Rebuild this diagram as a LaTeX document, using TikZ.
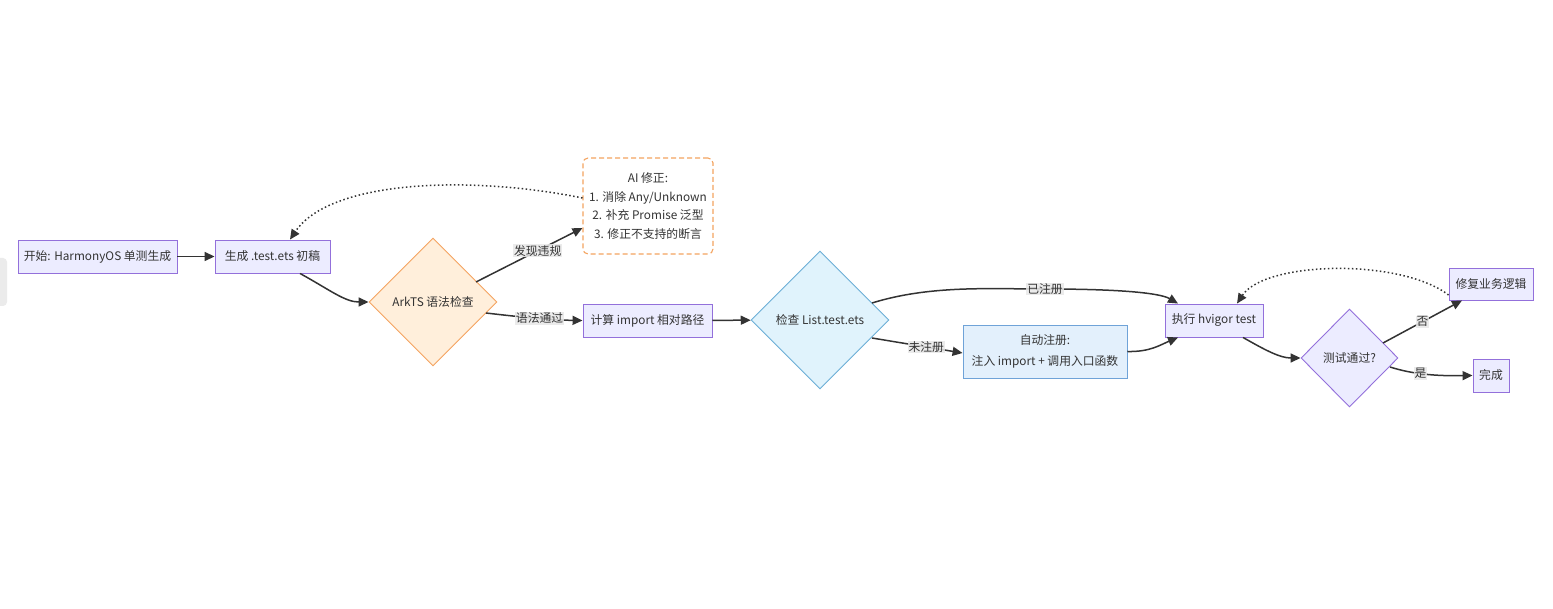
\documentclass[tikz,border=0pt]{standalone}
\usepackage{fontspec}
\setmainfont{Noto Sans CJK SC}
\usetikzlibrary{arrows.meta,shapes.geometric}
\definecolor{txt}{HTML}{333333}
\definecolor{pfill}{HTML}{ECECFF}
\definecolor{pdraw}{HTML}{9370DB}
\definecolor{ofill}{HTML}{FFEFDB}
\definecolor{odraw}{HTML}{F4A460}
\definecolor{bfill}{HTML}{E0F3FC}
\definecolor{bdraw}{HTML}{6BAED6}
\definecolor{b2fill}{HTML}{E3F0FC}
\definecolor{b2draw}{HTML}{6FA3D8}
\definecolor{lblbg}{HTML}{E8E8E8}
\definecolor{edgec}{HTML}{333333}
\tikzset{
  x=1pt, y=-1pt,
  every node/.style={font=\fontsize{11.8}{14}\selectfont, text=txt},
  pbox/.style={draw=pdraw, fill=pfill, line width=0.9pt, inner sep=0pt, minimum height=33pt, align=center},
  dbox/.style={shape=diamond, aspect=1, inner sep=0pt, line width=0.9pt},
  edge/.style={draw=edgec, line width=1.5pt, -{Triangle[length=10pt,width=9pt]}},
  dots/.style={draw=edgec, line width=1.5pt, dash pattern=on 1.5pt off 2.5pt, -{Triangle[length=10pt,width=9pt]}},
  lbl/.style={fill=lblbg, fill opacity=0.85, text opacity=1, inner sep=1pt},
}
\begin{document}
\begin{tikzpicture}
\useasboundingbox (0,0) rectangle (1553,609);
\fill[white] (0,0) rectangle (1553,609);
% side tab
\fill[black!8, rounded corners=4pt] (-6,258) rectangle (7,306);

\node[pbox, minimum width=159pt] (start) at (97.5,256.5) {开始: HarmonyOS 单测生成};
\node[pbox, minimum width=115pt] (draft) at (272.5,256.5) {生成 .test.ets 初稿};
\node[dbox, draw=odraw, fill=ofill, minimum width=128pt, minimum height=128pt] (ark) at (433,302) {ArkTS 语法检查};
\node[draw=odraw, fill=white, dash pattern=on 5pt off 3pt, rounded corners=5pt, line width=1.1pt, minimum width=130pt, minimum height=96pt, align=center, inner sep=0pt, font=\fontsize{11.8}{18.8}\selectfont] (ai) at (648,206) {AI 修正:\\1. 消除 Any/Unknown\\2. 补充 Promise 泛型\\3. 修正不支持的断言};
\node[pbox, minimum width=129pt] (calc) at (647.5,320.5) {计算 import 相对路径};
\node[dbox, draw=bdraw, fill=bfill, minimum width=138pt, minimum height=138pt] (chk) at (820,320) {检查 List.test.ets};
\node[draw=b2draw, fill=b2fill, line width=0.9pt, minimum width=164pt, minimum height=53pt, inner sep=0pt, align=center, font=\fontsize{11.8}{21}\selectfont] (auto) at (1045,351.5) {自动注册:\\注入 import + 调用入口函数};
\node[pbox, minimum width=98pt] (exec) at (1214,320.5) {执行 hvigor test};
\node[dbox, draw=pdraw, fill=pfill, minimum width=97pt, minimum height=98pt] (test) at (1349.5,358) {测试通过?};
\node[pbox, minimum width=84pt, minimum height=32pt] (fix) at (1491,284) {修复业务逻辑};
\node[pbox, minimum width=36pt] (done) at (1491,375.5) {完成};

% edges
\draw[edge] (start) -- (draft);
\draw[edge] ([xshift=27.5pt]draft.south) .. controls (330,290) and (345,302) .. (ark.west);
\path (476,282) coordinate (arkA) (486,313) coordinate (arkB);
\draw[edge] (arkA) -- ([yshift=-22pt]ai.west) node[lbl, pos=0.58] {发现违规};
\draw[edge] (arkB) .. controls (520,317) and (550,320) .. (calc.west) node[lbl, pos=0.55] {语法通过};
\draw[dots] ([yshift=8pt]ai.west) .. controls (470,175) and (330,180) .. ([xshift=17.5pt]draft.north);
\draw[edge] (calc) -- (chk);
\path (872,303) coordinate (chA) (872,338) coordinate (chB);
\draw[edge] (chA) .. controls (930,285) and (990,289) .. (1045,289) node[lbl] {已注册} .. controls (1120,289) and (1160,293) .. ([xshift=-36pt]exec.north);
\draw[edge] (chB) -- (auto.west |- 0,353) node[lbl, pos=0.6] {未注册};
\draw[edge] (auto.east) .. controls (1150,352) and (1160,345) .. ([xshift=-36pt]exec.south);
\draw[edge] ([xshift=29pt]exec.south) .. controls (1265,350) and (1280,358) .. (test.west);
\path (1383,343) coordinate (tA) (1390,367) coordinate (tB);
\draw[edge] (tA) -- ([xshift=-29pt]fix.south) node[lbl, pos=0.5] {否};
\draw[edge] (tB) .. controls (1415,375) and (1440,376) .. (done.west) node[lbl, pos=0.4] {是};
\draw[dots] ([yshift=-11pt]fix.west) .. controls (1400,258) and (1265,261) .. ([xshift=23pt]exec.north);
\end{tikzpicture}
\end{document}
